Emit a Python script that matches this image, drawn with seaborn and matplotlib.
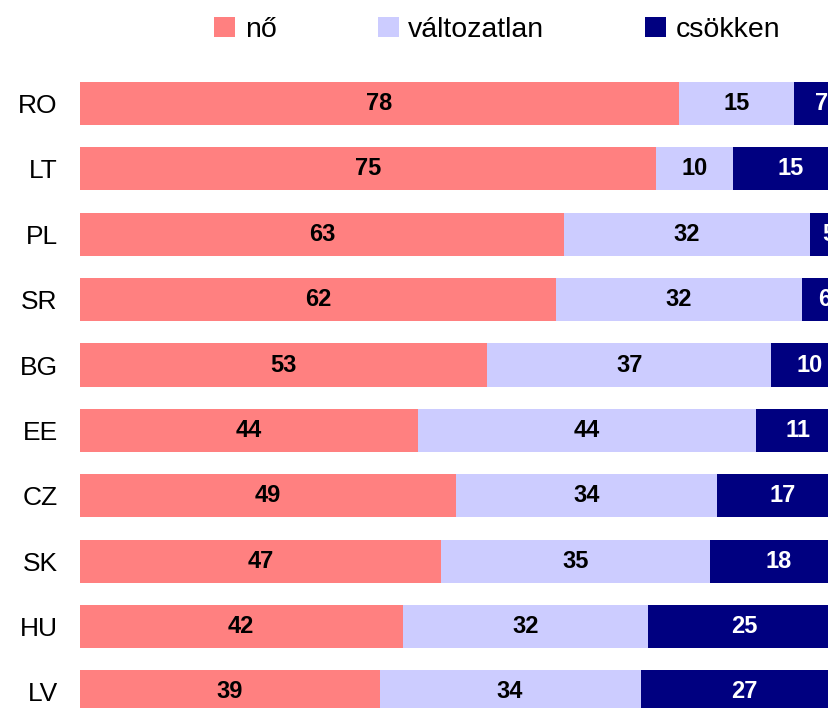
import matplotlib
matplotlib.use("Agg")
import matplotlib.pyplot as plt
import seaborn as sns
import pandas as pd
import numpy as np
from matplotlib.patches import Patch

countries = ["RO", "LT", "PL", "SR", "BG", "EE", "CZ", "SK", "HU", "LV"]
no_vals = [78, 75, 63, 62, 53, 44, 49, 47, 42, 39]
valtozatlan_vals = [15, 10, 32, 32, 37, 44, 34, 35, 32, 34]
csokken_vals = [7, 15, 5, 6, 10, 11, 17, 18, 25, 27]
series_names = ["nő", "változatlan", "csökken"]
colors = ["#FF8080", "#CCCCFF", "#000080"]
text_colors = ["black", "black", "white"]

sns.set_theme(style="white")
plt.rcParams['font.family'] = ['Liberation Sans', 'DejaVu Sans']
plt.rcParams['text.color'] = 'black'
plt.rcParams['ytick.color'] = 'black'

df = pd.DataFrame({"country": countries, "no": no_vals,
                   "valt": valtozatlan_vals, "csok": csokken_vals})
df["c1"] = df["no"]
df["c2"] = df["no"] + df["valt"]
df["c3"] = df["no"] + df["valt"] + df["csok"]

W, H = 829, 708
fig = plt.figure(figsize=(W / 100, H / 100), dpi=100)
ax = fig.add_axes([80 / W, 0, 768 / W, 1])

bw = 0.66
for col, c in [("c3", colors[2]), ("c2", colors[1]), ("c1", colors[0])]:
    sns.barplot(data=df, y="country", x=col, color=c, orient="h",
                width=bw, ax=ax, saturation=1, edgecolor="none", linewidth=0)

ax.set_xlim(0, 100)
ax.set_ylim(9.245, -1.583)
ax.set_xlabel("")
ax.set_ylabel("")
ax.set_xticks([])
ax.tick_params(axis="y", length=0, labelsize=19, pad=16, labelcolor="black")
for s in ax.spines.values():
    s.set_visible(False)

starts = [np.zeros(len(df)), df["c1"].values, df["c2"].values]
vals = [df["no"].values, df["valt"].values, df["csok"].values]
for k in range(3):
    for i in range(len(df)):
        cx = starts[k][i] + vals[k][i] / 2
        ax.text(cx, i, str(vals[k][i]), ha="center", va="center",
                fontsize=17, fontweight="bold", color=text_colors[k])

handles = [Patch(facecolor=c, edgecolor="none", label=n) for c, n in zip(colors, series_names)]
fig.legend(handles=handles, loc="center", bbox_to_anchor=(0.6, 0.958), ncol=3,
           frameon=False, handlelength=0.74, handleheight=0.74, handletextpad=0.33,
           columnspacing=3.55, prop={'size': 20.5})

fig.savefig("out.png", dpi=100)
